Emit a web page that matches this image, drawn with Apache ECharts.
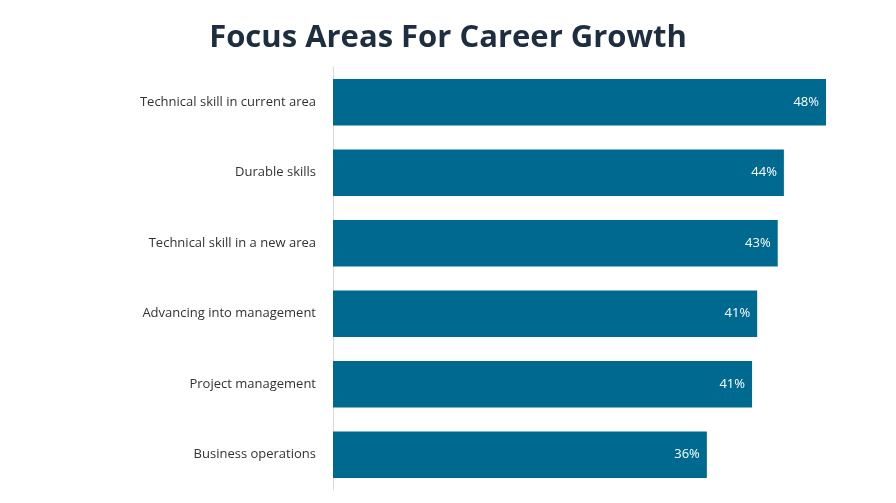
<!DOCTYPE html>
<html><head><meta charset="utf-8">
<script src="https://cdn.jsdelivr.net/npm/echarts@6/dist/echarts.min.js"></script>
<style>html,body{margin:0;padding:0;background:#fff}#c{width:896px;height:503px}</style>
</head><body><div id="c"></div>
<script>
const categories = ["Technical skill in current area","Durable skills","Technical skill in a new area","Advancing into management","Project management","Business operations"];
const values = [48.0, 43.9, 43.3, 41.3, 40.8, 36.4];
const chart = echarts.init(document.getElementById('c'));
chart.setOption({
  animation:false,
  title:{text:"Focus Areas For Career Growth",left:'center',top:18,textStyle:{fontFamily:"Open Sans",fontWeight:'bold',fontSize:31,color:'#1e2d3f'}},
  grid:{left:333,right:70,top:67,bottom:13},
  xAxis:{type:'value',min:0,max:48,show:false},
  yAxis:{type:'category',inverse:true,data:categories,
    axisLine:{lineStyle:{color:'#d9d9d9'}},axisTick:{show:false},
    axisLabel:{fontFamily:"Open Sans",fontSize:13,color:'#333',margin:17}},
  series:[{type:'bar',data:values,barCategoryGap:'34%',itemStyle:{color:'#006990'},
    label:{show:true,position:'insideRight',color:'#fff',fontFamily:"Open Sans",fontSize:13,offset:[-2,0],
      formatter:p=>Math.round(p.value)+'%'}}]
});
</script></body></html>
